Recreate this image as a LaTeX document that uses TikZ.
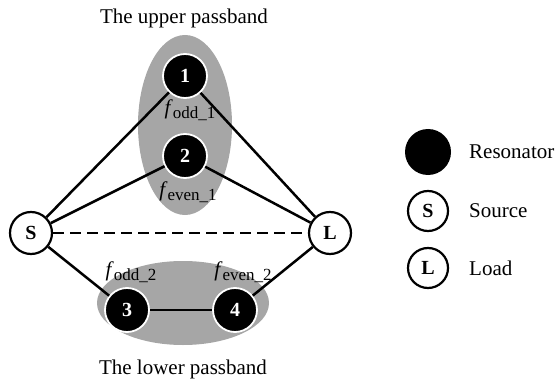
\documentclass[tikz,border=0pt]{standalone}
\usepackage{fontspec}
\setmainfont{Liberation Serif}
\begin{document}
\begin{tikzpicture}[x=1pt,y=-1pt,
  res/.style={circle,fill=black,draw=white,line width=1.8pt,minimum size=44pt,inner sep=0pt,text=white,font=\fontsize{20}{20}\selectfont\bfseries},
  port/.style={circle,fill=white,draw=black,line width=2.2pt,minimum size=42pt,inner sep=0pt,font=\fontsize{20}{20}\selectfont\bfseries},
  band/.style={fill=black!35,draw=none},
  conn/.style={line width=2.5pt},
  lbl/.style={font=\fontsize{21}{21}\selectfont,inner sep=0pt},
  flab/.style={font=\fontsize{21}{21}\selectfont,inner sep=0pt}]
\useasboundingbox (0,0) rectangle (556,382);
\fill[band] (185,125) ellipse [x radius=47, y radius=90];
\fill[band] (183,303) ellipse [x radius=86, y radius=42];
\node[port] (S) at (31,233) {S};
\node[port] (L) at (330,233) {L};
\node[res] (n1) at (185,76) {1};
\node[res] (n2) at (185,156) {2};
\node[res] (n3) at (127,310) {3};
\node[res] (n4) at (235,310) {4};
\draw[conn] (S) -- (n1);
\draw[conn] (S) -- (n2);
\draw[conn] (S) -- (n3);
\draw[conn] (n1) -- (L);
\draw[conn] (n2) -- (L);
\draw[conn] (n4) -- (L);
\draw[conn] (n3) -- (n4);
\draw[conn,dash pattern=on 11pt off 6pt] (S) -- (L);
\node[flab] (fo1) at (190,110) {\textit{f}\raisebox{-0.4ex}{\fontsize{17}{17}\selectfont odd\_1}};
\node[flab] (fe1) at (188,192) {\textit{f}\raisebox{-0.4ex}{\fontsize{17}{17}\selectfont even\_1}};
\node[flab] (fo2) at (131,272) {\textit{f}\raisebox{-0.4ex}{\fontsize{17}{17}\selectfont odd\_2}};
\node[flab] (fe2) at (243,272) {\textit{f}\raisebox{-0.4ex}{\fontsize{17}{17}\selectfont even\_2}};
\node[lbl] (tu) at (184,18) {The upper passband};
\node[lbl] (tl) at (183,369) {The lower passband};
\node[circle,fill=black,minimum size=46pt,inner sep=0pt] (lr) at (428,152) {};
\node[port,minimum size=40pt] (ls) at (428,211) {S};
\node[port,minimum size=40pt] (ll) at (428,268) {L};
\node[lbl,anchor=west] (tr) at (469,152) {Resonator};
\node[lbl,anchor=west] (ts) at (469,211) {Source};
\node[lbl,anchor=west] (tlo) at (469,268) {Load};
\end{tikzpicture}
\end{document}
